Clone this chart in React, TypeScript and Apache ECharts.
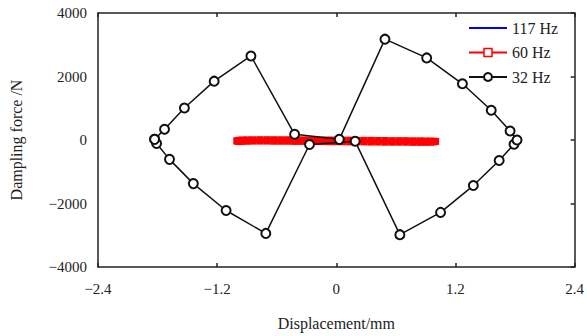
import React, { useEffect, useRef } from "react";
import * as echarts from "echarts";

const xTicks = [-2.4, -1.2, 0, 1.2, 2.4];
const yTicks = [-4000, -2000, 0, 2000, 4000];

// 32 Hz loop (displacement mm, force N)
const hz32X = [-1.83, -1.81, -1.68, -1.44, -1.11, -0.71, -0.27, 0.19, 0.64, 1.05, 1.38, 1.64, 1.79, 1.82, 1.75, 1.56, 1.27, 0.91, 0.49, 0.03, -0.42, -0.86, -1.23, -1.53, -1.73, -1.83];
const hz32Y = [20, -112, -610, -1374, -2220, -2942, -142, -41, -2982, -2280, -1435, -646, -133, 0, 285, 937, 1771, 2585, 3176, 20, 180, 2647, 1853, 1008, 336, 20];

// 60 Hz loop
const hz60X = [-1.0, -0.98, -0.95, -0.9, -0.84, -0.77, -0.7, -0.63, -0.56, -0.49, -0.42, -0.35, -0.28, -0.21, -0.14, -0.07, 0, 0.07, 0.14, 0.21, 0.28, 0.35, 0.42, 0.49, 0.56, 0.63, 0.7, 0.77, 0.84, 0.9, 0.95, 0.98, 1.0,
  0.98, 0.95, 0.9, 0.84, 0.77, 0.7, 0.63, 0.56, 0.49, 0.42, 0.35, 0.28, 0.21, 0.14, 0.07, 0, -0.07, -0.14, -0.21, -0.28, -0.35, -0.42, -0.49, -0.56, -0.63, -0.7, -0.77, -0.84, -0.9, -0.95, -0.98, -1.0];
const hz60Y = [-30, -10, 0, 5, 8, 10, 10, 10, 8, 8, 5, 5, 5, 0, 0, 0, -5, -5, -5, -10, -10, -10, -15, -15, -20, -20, -20, -25, -25, -30, -35, -40, -45,
  -60, -70, -75, -75, -75, -70, -70, -70, -70, -65, -65, -60, -60, -60, -55, -55, -55, -50, -50, -50, -45, -45, -40, -40, -40, -35, -35, -35, -40, -45, -50, -30];

// 117 Hz loop (hidden beneath the 60 Hz band)
const hz117X = [-0.5, -0.25, 0, 0.25, 0.5, 0.25, 0, -0.25, -0.5];
const hz117Y = [-10, -15, -20, -25, -30, -35, -30, -25, -10];

const seriesNames = ["117 Hz", "60 Hz", "32 Hz"];

const fmt = (v: number) => {
  const s = String(Math.abs(v));
  return v < 0 ? "\u2212" + s : s;
};

const pair = (xs: number[], ys: number[]) => xs.map((x, i) => [x, ys[i]]);

export default function App() {
  const ref = useRef<HTMLDivElement>(null);
  useEffect(() => {
    if (!ref.current) return;
    const chart = echarts.init(ref.current, undefined, { renderer: "svg" });
    const font = "Liberation Serif";
    const axisLine = { show: true, onZero: false, lineStyle: { color: "#222", width: 1.5 } };
    const tick = { show: true, inside: true, length: 4, lineStyle: { color: "#222", width: 1.5 } };
    chart.setOption({
      animation: false,
      textStyle: { fontFamily: font },
      grid: { left: 92, right: 12, top: 13, bottom: 61, containLabel: false },
      legend: {
        orient: "vertical",
        left: 468,
        top: 20,
        padding: 0,
        itemWidth: 38,
        itemHeight: 10,
        itemGap: 8.5,
        textStyle: { fontFamily: font, fontSize: 16, color: "#222", lineHeight: 16, padding: [0, 0, 0, 0] },
        data: [
          { name: seriesNames[0], itemStyle: { opacity: 0 } },
          { name: seriesNames[1], itemStyle: { color: "#fff", borderColor: "#ff0000", borderWidth: 1.5 } },
          { name: seriesNames[2], itemStyle: { borderWidth: 1.5 } },
        ],
      },
      xAxis: [
        {
          type: "value",
          min: -2.4,
          max: 2.4,
          interval: 1.2,
          name: "Displacement/mm",
          nameLocation: "middle",
          nameGap: 48,
          nameTextStyle: { fontFamily: font, fontSize: 16, color: "#222" },
          axisLine,
          axisTick: tick,
          axisLabel: { fontFamily: font, fontSize: 15, color: "#222", margin: 14, formatter: (v: number) => (xTicks.includes(v) ? fmt(v) : "") },
          splitLine: { show: false },
        },
        {
          type: "value",
          position: "top",
          min: -2.4,
          max: 2.4,
          interval: 1.2,
          axisLine,
          axisTick: tick,
          axisLabel: { show: false },
          splitLine: { show: false },
        },
      ],
      yAxis: [
        {
          type: "value",
          min: -4000,
          max: 4000,
          interval: 2000,
          name: "Dampling force /N",
          nameLocation: "middle",
          nameGap: 74,
          nameTextStyle: { fontFamily: font, fontSize: 16, color: "#222" },
          axisLine,
          axisTick: { show: false },
          axisLabel: { fontFamily: font, fontSize: 15, color: "#222", margin: 11, formatter: (v: number) => (yTicks.includes(v) ? fmt(v) : "") },
          splitLine: { show: false },
        },
        {
          type: "value",
          position: "right",
          min: -4000,
          max: 4000,
          interval: 2000,
          axisLine,
          axisTick: tick,
          axisLabel: { show: false },
          splitLine: { show: false },
        },
      ],
      series: [
        {
          name: seriesNames[0],
          type: "line",
          symbol: "none",
          data: pair(hz117X, hz117Y),
          lineStyle: { color: "#0000ff", width: 2 },
          itemStyle: { color: "#0000ff" },
          z: 1,
        },
        {
          name: seriesNames[1],
          type: "line",
          symbol: "rect",
          symbolSize: 7,
          data: pair(hz60X, hz60Y),
          lineStyle: { color: "#ff0000", width: 1.5 },
          itemStyle: { color: "#ff0000", borderWidth: 0 },
          z: 2,
        },
        {
          name: seriesNames[2],
          type: "line",
          symbol: "emptyCircle",
          symbolSize: 9,
          data: pair(hz32X, hz32Y),
          lineStyle: { color: "#111", width: 1.5 },
          itemStyle: { color: "#111", borderWidth: 1.5 },
          z: 3,
        },
      ],
    });
    return () => chart.dispose();
  }, []);
  return <div ref={ref} style={{ width: 587, height: 336, position: "absolute", left: 0, top: 0, background: "#fff" }} />;
}
